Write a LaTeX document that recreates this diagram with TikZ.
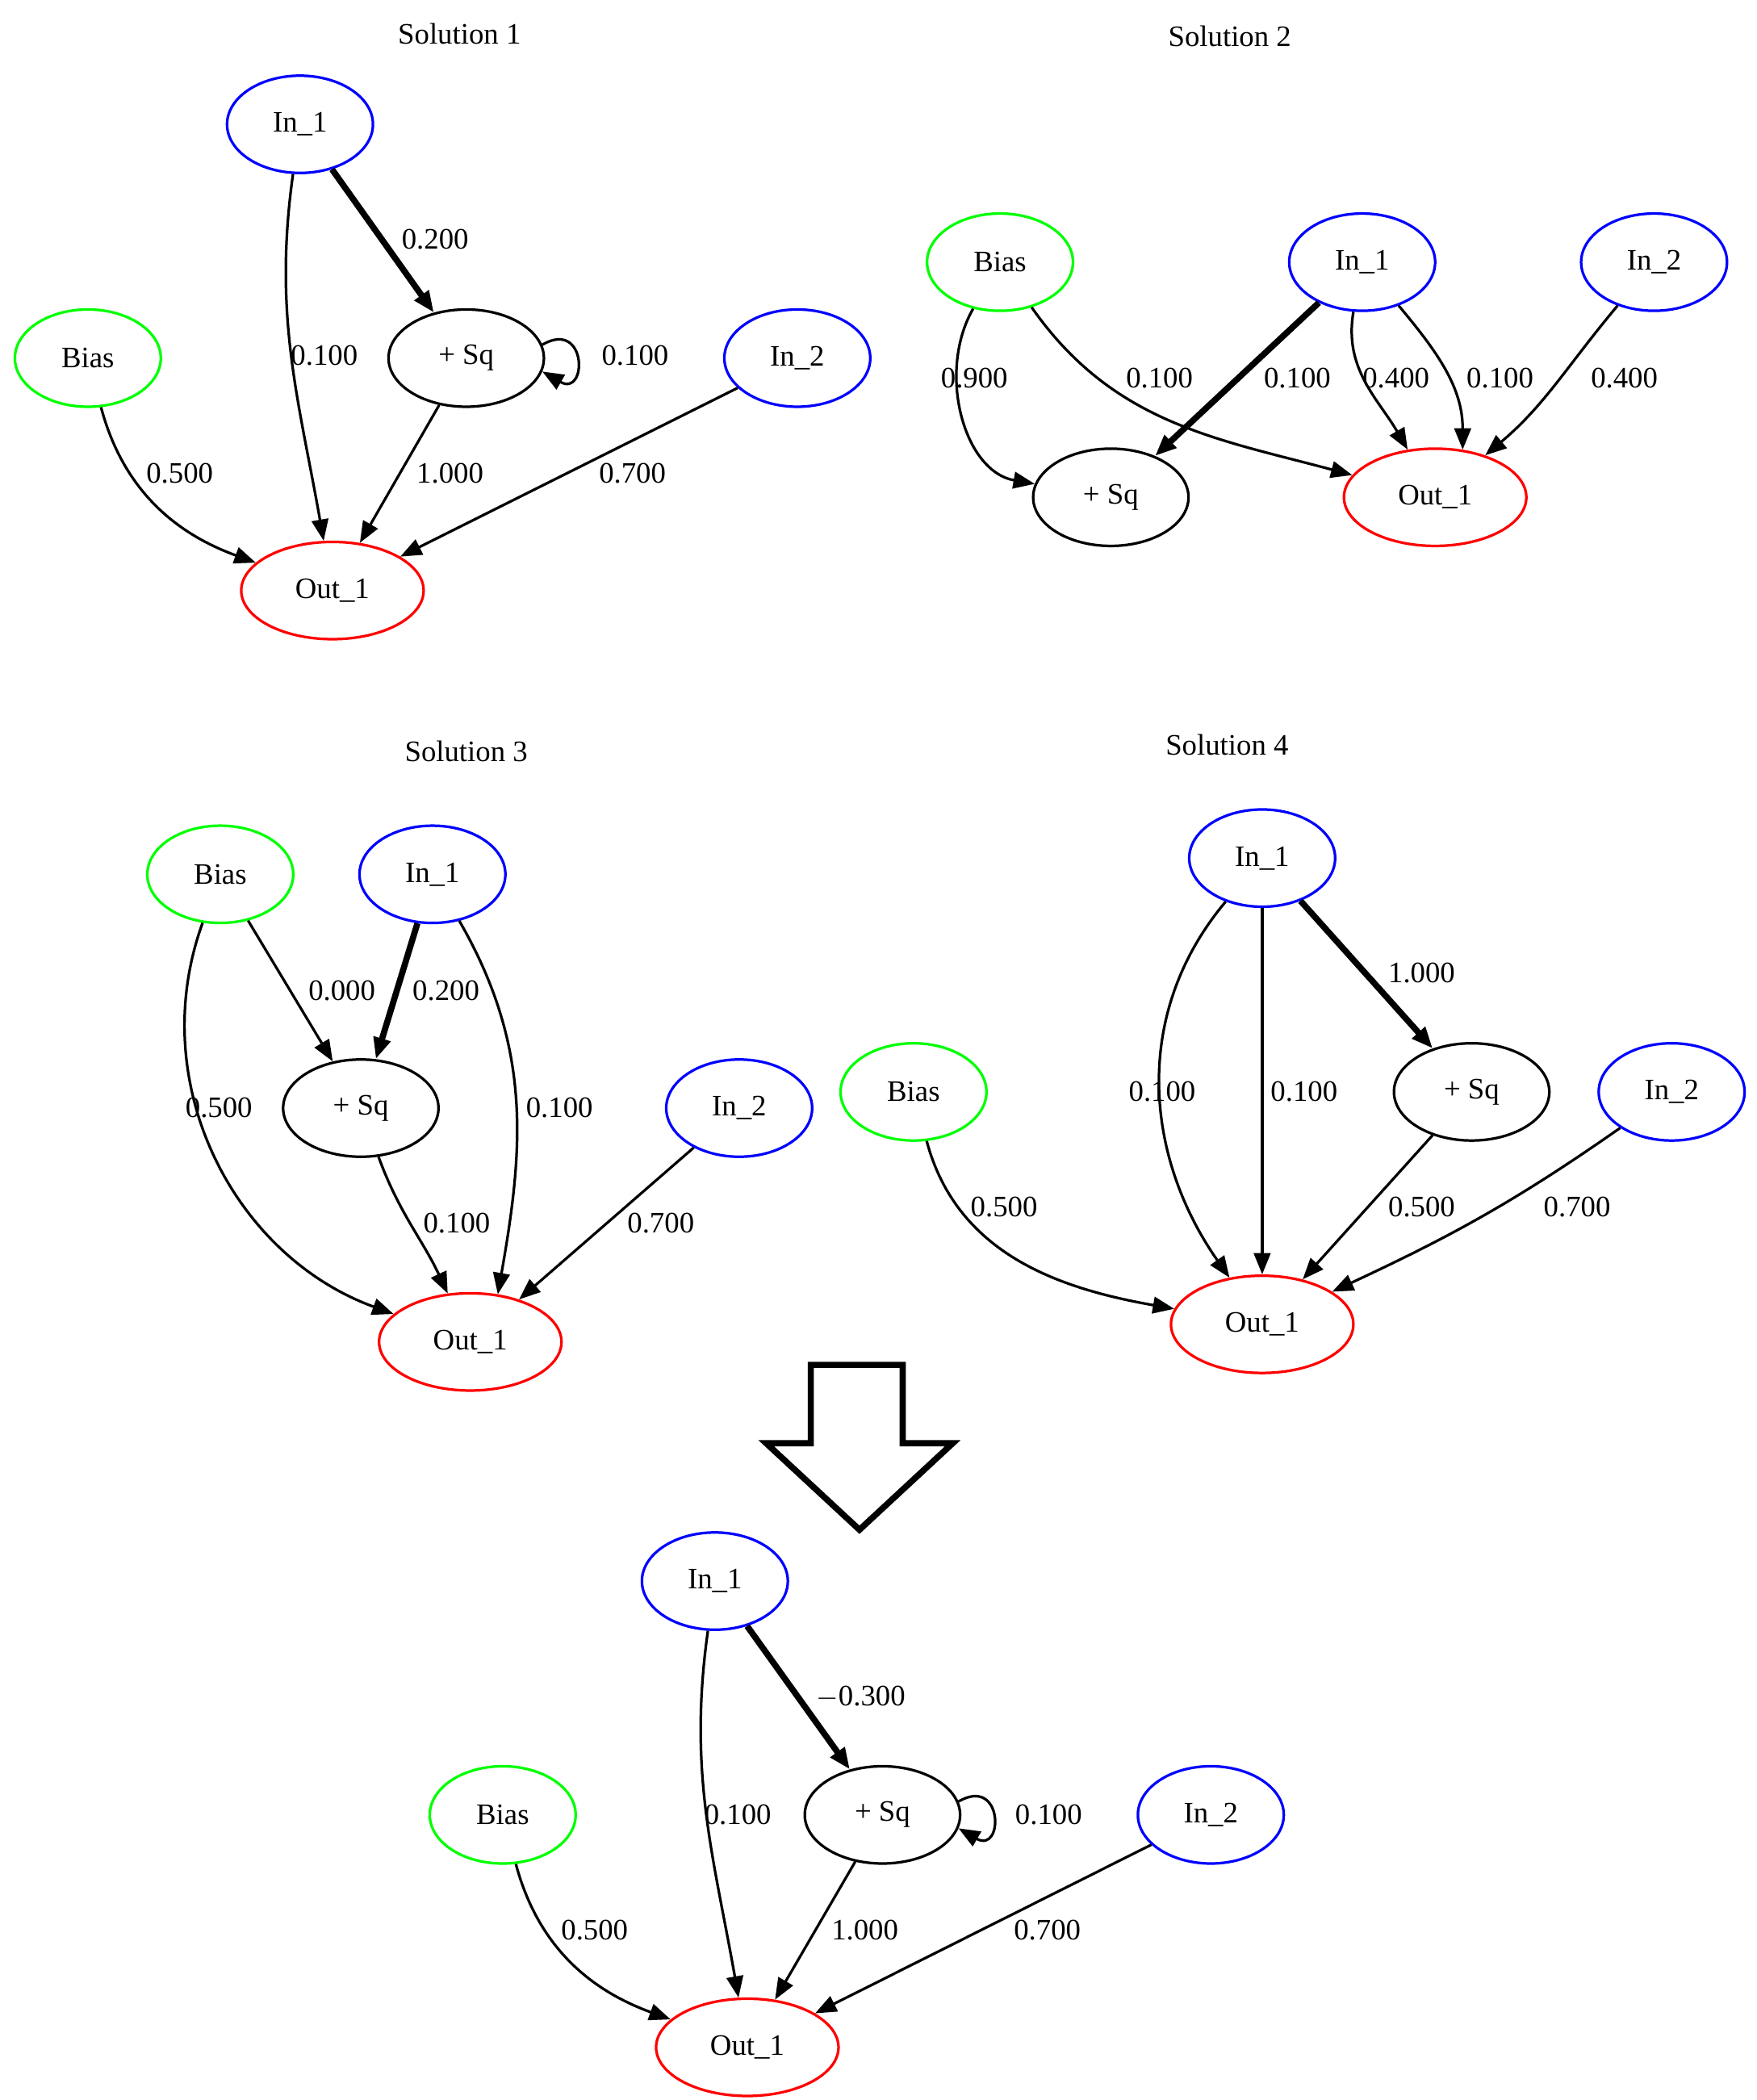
\documentclass[tikz,border=0pt]{standalone}
\usepackage{fontspec}
\setmainfont{Liberation Serif}
\usetikzlibrary{shapes.geometric,arrows.meta}
\begin{document}
\begin{tikzpicture}[x=0.02cm,y=-0.02cm,
  nd/.style={ellipse,draw,line width=1.1pt,minimum width=2.16cm,minimum height=1.44cm,inner sep=0pt,font=\fontsize{12.5}{14}\selectfont},
  bl/.style={nd,draw=blue},gr/.style={nd,draw=green},rd/.style={nd,draw=red,minimum width=2.7cm},
  sq/.style={nd,minimum width=2.3cm},
  e/.style={-{Triangle[length=9pt,width=7pt]},line width=1.1pt},
  tk/.style={e,line width=2.6pt},
  lb/.style={font=\fontsize{12.5}{14}\selectfont,inner sep=1pt},
  tt/.style={font=\fontsize{12.5}{14}\selectfont}]
\useasboundingbox (0,0) rectangle (1300,1554);
% Solution 1
\node[tt] (t1) at (340,25) {Solution 1};
\node[bl] (a1) at (222,92) {In\_1};
\node[sq] (q1) at (345,265) {+ Sq};
\node[gr] (b1) at (65,265) {Bias};
\node[bl] (c1) at (590,265) {In\_2};
\node[rd] (o1) at (246,437) {Out\_1};
\draw[tk] (a1) -- (q1);
\draw[e] (a1) to[out=-98,in=100] (o1);
\draw[e] (q1.10) to[out=30,in=-30,looseness=5] (q1.-10);
\draw[e] (b1) to[out=-75,in=160] (o1);
\draw[e] (q1) -- (o1);
\draw[e] (c1) -- (o1);
\node[lb] (l11) at (322,177) {0.200};
\node[lb] (l12) at (240,263) {0.100};
\node[lb] (l13) at (470,263) {0.100};
\node[lb] (l14) at (133,350) {0.500};
\node[lb] (l15) at (333,350) {1.000};
\node[lb] (l16) at (468,350) {0.700};
% Solution 2
\node[tt] (t2) at (910,27) {Solution 2};
\node[gr] (b2) at (740,194) {Bias};
\node[bl] (a2) at (1008,194) {In\_1};
\node[bl] (c2) at (1224,194) {In\_2};
\node[sq] (q2) at (822,368) {+ Sq};
\node[rd] (o2) at (1062,368) {Out\_1};
\draw[e] (b2) to[out=-120,in=170] (q2);
\draw[e] (b2) to[out=-55,in=165] (o2);
\draw[tk] (a2) -- (q2);
\draw[e] (a2) to[out=-100,in=120] (o2);
\draw[e] (a2) to[out=-50,in=90] (o2.60);
\draw[e] (c2) to[out=-130,in=40] (o2);
\node[lb] (l21) at (721,280) {0.900};
\node[lb] (l22) at (858,280) {0.100};
\node[lb] (l23) at (960,280) {0.100};
\node[lb] (l24) at (1033,280) {0.400};
\node[lb] (l25) at (1110,280) {0.100};
\node[lb] (l26) at (1202,280) {0.400};
% Solution 3
\node[tt] (t3) at (345,556) {Solution 3};
\node[gr] (b3) at (163,647) {Bias};
\node[bl] (a3) at (320,647) {In\_1};
\node[sq] (q3) at (267,820) {+ Sq};
\node[bl] (c3) at (547,820) {In\_2};
\node[rd] (o3) at (348,993) {Out\_1};
\draw[e] (b3) to[out=-110,in=160] (o3);
\draw[e] (b3) -- (q3);
\draw[tk] (a3) -- (q3);
\draw[e] (a3) to[out=-60,in=80] (o3.60);
\draw[e] (q3) to[out=-70,in=115] (o3);
\draw[e] (c3) -- (o3);
\node[lb] (l31) at (162,820) {0.500};
\node[lb] (l32) at (253,733) {0.000};
\node[lb] (l33) at (330,733) {0.200};
\node[lb] (l34) at (414,820) {0.100};
\node[lb] (l35) at (338,905) {0.100};
\node[lb] (l36) at (489,905) {0.700};
% Solution 4
\node[tt] (t4) at (908,551) {Solution 4};
\node[bl] (a4) at (934,635) {In\_1};
\node[gr] (b4) at (676,808) {Bias};
\node[sq] (q4) at (1089,808) {+ Sq};
\node[bl] (c4) at (1237,808) {In\_2};
\node[rd] (o4) at (934,980) {Out\_1};
\draw[e] (a4) to[out=-130,in=125] (o4);
\draw[e] (a4) -- (o4);
\draw[tk] (a4) -- (q4);
\draw[e] (b4) to[out=-75,in=170] (o4);
\draw[e] (q4) -- (o4);
\draw[e] (c4) to[out=-145,in=25] (o4);
\node[lb] (l41) at (860,808) {0.100};
\node[lb] (l42) at (965,808) {0.100};
\node[lb] (l43) at (1052,720) {1.000};
\node[lb] (l44) at (743,893) {0.500};
\node[lb] (l45) at (1052,893) {0.500};
\node[lb] (l46) at (1167,893) {0.700};
% big arrow
\draw[line width=2.6pt,line join=miter] (600,1010) -- (668,1010) -- (668,1068) -- (705,1068) -- (636,1132) -- (567,1068) -- (600,1068) -- cycle;
% Final
\node[bl] (a5) at (529,1170) {In\_1};
\node[sq] (q5) at (653,1343) {+ Sq};
\node[gr] (b5) at (372,1343) {Bias};
\node[bl] (c5) at (896,1343) {In\_2};
\node[rd] (o5) at (553,1515) {Out\_1};
\draw[tk] (a5) -- (q5);
\draw[e] (a5) to[out=-98,in=100] (o5);
\draw[e] (q5.10) to[out=30,in=-30,looseness=5] (q5.-10);
\draw[e] (b5) to[out=-75,in=160] (o5);
\draw[e] (q5) -- (o5);
\draw[e] (c5) -- (o5);
\node[lb] (l51) at (637,1256) {$-$0.300};
\node[lb] (l52) at (546,1343) {0.100};
\node[lb] (l53) at (776,1343) {0.100};
\node[lb] (l54) at (440,1428) {0.500};
\node[lb] (l55) at (640,1428) {1.000};
\node[lb] (l56) at (775,1428) {0.700};
\end{tikzpicture}
\end{document}
